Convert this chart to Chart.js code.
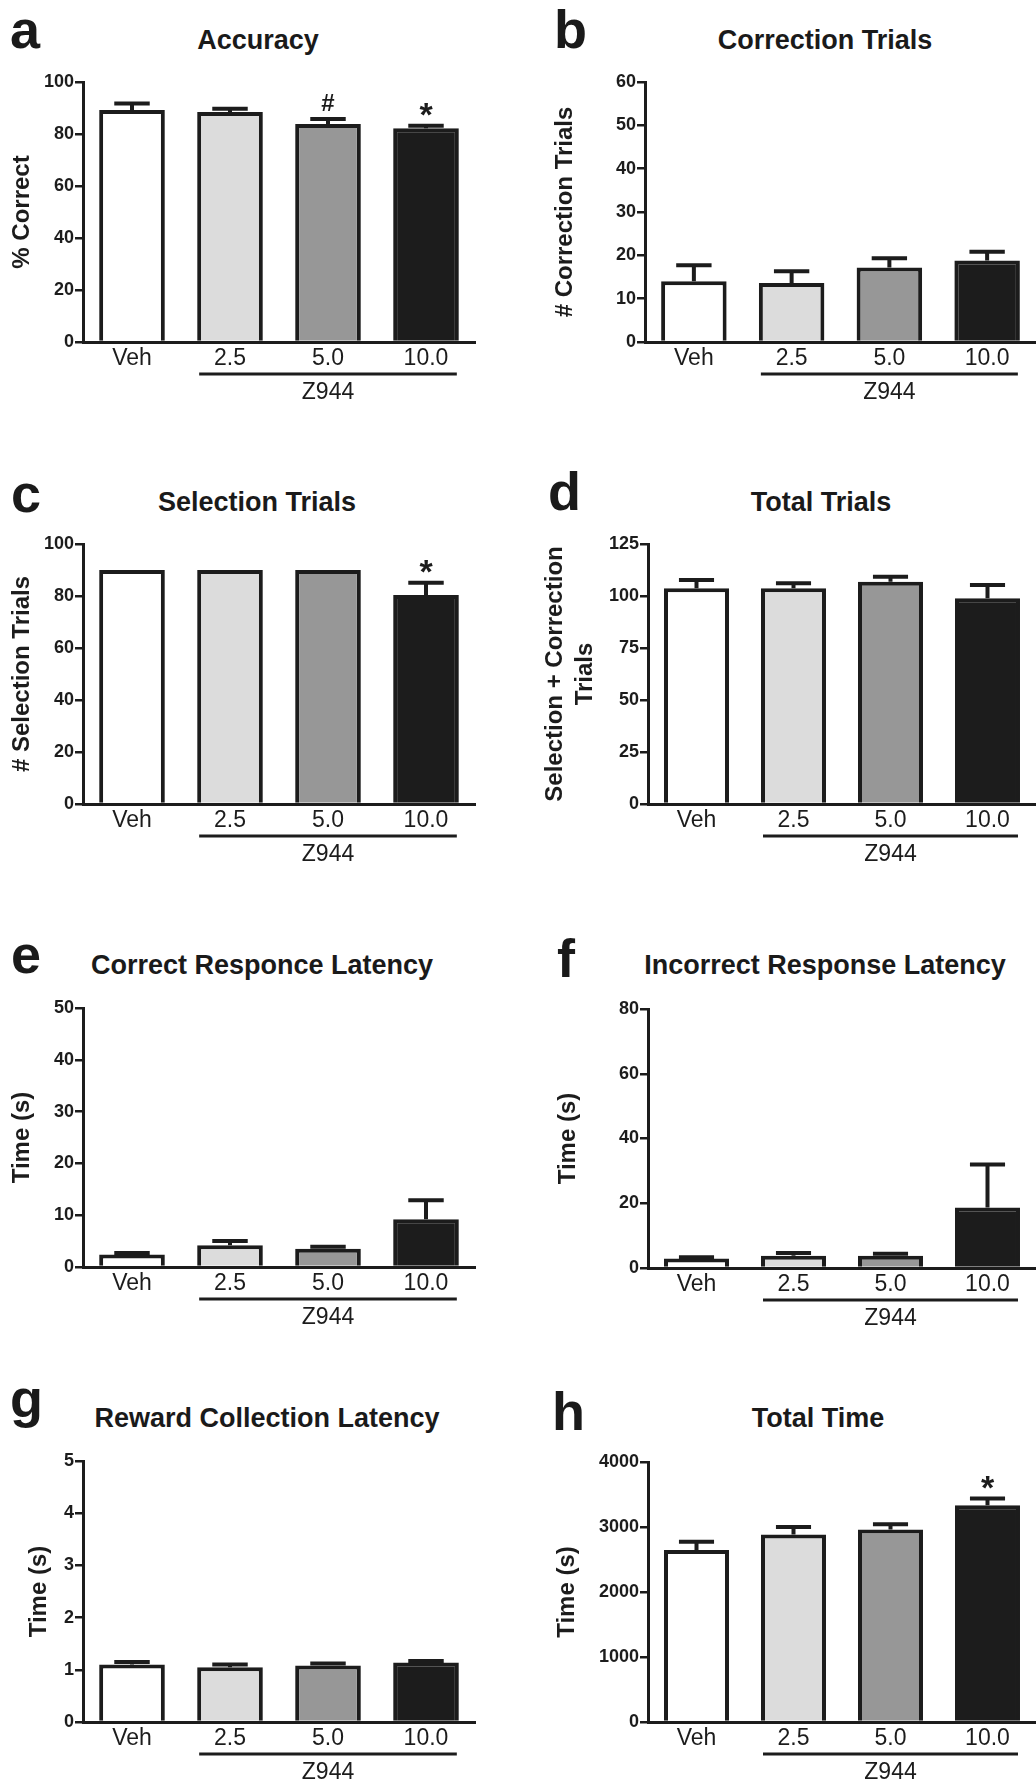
<!DOCTYPE html>
<html>
<head>
<meta charset="utf-8">
<script src="https://cdn.jsdelivr.net/npm/chart.js@4.4.1/dist/chart.umd.min.js"></script>
<style>
  html, body { margin: 0; padding: 0; background: #fff; overflow: hidden; }
  body { width: 1036px; height: 1784px; position: relative; font-family: "Liberation Sans", Arial, sans-serif; color: #1a1a1a; }
  canvas { position: absolute; }
  .letter { position: absolute; font-size: 54px; font-weight: bold; line-height: 1; }
  .title { position: absolute; font-size: 27px; font-weight: bold; line-height: 1; white-space: nowrap; transform: translateX(-50%); }
</style>
</head>
<body>
<script>
// groups and drug
var categories = ["Veh", "2.5", "5.0", "10.0"];
var drugLabel = "Z944";
var barColors = ["#ffffff", "#dcdcdc", "#979797", "#1c1c1c"];

// a - accuracy
var accuracyMean = [89.2, 88.5, 83.8, 82.2];
var accuracySem = [2.5, 1.2, 2.0, 1.0];
var accuracyMarks = ["", "", "#", "*"];
var accuracyTicks = [0, 20, 40, 60, 80, 100];

// b - correction trials
var correctionMean = [14.0, 13.6, 17.2, 18.8];
var correctionSem = [3.7, 2.7, 2.1, 2.0];
var correctionTicks = [0, 10, 20, 30, 40, 50, 60];

// c - selection trials
var selectionMean = [90, 90, 90, 80.4];
var selectionSem = [0, 0, 0, 4.7];
var selectionMarks = ["", "", "", "*"];
var selectionTicks = [0, 20, 40, 60, 80, 100];

// d - total trials
var totalTrialsMean = [103.7, 103.7, 106.9, 98.9];
var totalTrialsSem = [4.0, 2.4, 2.4, 6.4];
var totalTrialsTicks = [0, 25, 50, 75, 100, 125];

// e - correct response latency
var correctLatMean = [2.4, 4.2, 3.5, 9.2];
var correctLatSem = [0.3, 0.8, 0.4, 3.7];
var correctLatTicks = [0, 10, 20, 30, 40, 50];

// f - incorrect response latency
var incorrectLatMean = [2.9, 3.8, 3.8, 18.7];
var incorrectLatSem = [0.4, 0.8, 0.6, 13.3];
var incorrectLatTicks = [0, 20, 40, 60, 80];

// g - reward collection latency
var rewardLatMean = [1.10, 1.05, 1.08, 1.14];
var rewardLatSem = [0.05, 0.05, 0.04, 0.03];
var rewardLatTicks = [0, 1, 2, 3, 4, 5];

// h - total time
var totalTimeMean = [2645, 2885, 2962, 3335];
var totalTimeSem = [127, 115, 81, 102];
var totalTimeMarks = ["", "", "", "*"];
var totalTimeTicks = [0, 1000, 2000, 3000, 4000];

var noMarks = ["", "", "", ""];

// panel setup; box = [plotLeft, plotRight, plotTop, plotBottom] on the page
var panels = [
  {letter: "a", title: "Accuracy", yTitle: "% Correct", mean: accuracyMean, sem: accuracySem, marks: accuracyMarks, ticks: accuracyTicks,
   box: [83, 475, 82, 342], yTitleX: 22, letterX: 10, letterY: 48, titleX: 258, titleY: 50},
  {letter: "b", title: "Correction Trials", yTitle: "# Correction Trials", mean: correctionMean, sem: correctionSem, marks: noMarks, ticks: correctionTicks,
   box: [645, 1036, 82, 342], yTitleX: 565, letterX: 554, letterY: 48, titleX: 825, titleY: 50},
  {letter: "c", title: "Selection Trials", yTitle: "# Selection Trials", mean: selectionMean, sem: selectionSem, marks: selectionMarks, ticks: selectionTicks,
   box: [83, 475, 544, 804], yTitleX: 22, letterX: 11, letterY: 512, titleX: 257, titleY: 512},
  {letter: "d", title: "Total Trials", yTitle: ["Selection + Correction", "Trials"], mean: totalTrialsMean, sem: totalTrialsSem, marks: noMarks, ticks: totalTrialsTicks,
   box: [648, 1036, 544, 804], yTitleX: 555, letterX: 548, letterY: 510, titleX: 821, titleY: 512},
  {letter: "e", title: "Correct Responce Latency", yTitle: "Time (s)", mean: correctLatMean, sem: correctLatSem, marks: noMarks, ticks: correctLatTicks,
   box: [83, 475, 1008, 1267], yTitleX: 22, letterX: 11, letterY: 973, titleX: 262, titleY: 975},
  {letter: "f", title: "Incorrect Response Latency", yTitle: "Time (s)", mean: incorrectLatMean, sem: incorrectLatSem, marks: noMarks, ticks: incorrectLatTicks,
   box: [648, 1036, 1009, 1268], yTitleX: 568, letterX: 557, letterY: 977, titleX: 825, titleY: 975},
  {letter: "g", title: "Reward Collection Latency", yTitle: "Time (s)", mean: rewardLatMean, sem: rewardLatSem, marks: noMarks, ticks: rewardLatTicks,
   box: [83, 475, 1461, 1722], yTitleX: 39, letterX: 10, letterY: 1417, titleX: 267, titleY: 1428},
  {letter: "h", title: "Total Time", yTitle: "Time (s)", mean: totalTimeMean, sem: totalTimeSem, marks: totalTimeMarks, ticks: totalTimeTicks,
   box: [648, 1036, 1462, 1722], yTitleX: 567, letterX: 552, letterY: 1430, titleX: 818, titleY: 1428}
];

var ink = "#1c1c1c";
var fontFam = "'Liberation Sans', Arial, sans-serif";

function addText(cls, text, x, baseline, size) {
  var d = document.createElement("div");
  d.className = cls;
  d.textContent = text;
  d.style.left = x + "px";
  d.style.top = (baseline - 0.8465 * size) + "px";
  document.body.appendChild(d);
}

// error bars, significance marks and the drug bracket
var extrasPlugin = {
  id: "extras",
  afterDatasetsDraw: function (chart) {
    var ds = chart.data.datasets[0];
    var meta = chart.getDatasetMeta(0);
    var y = chart.scales.y;
    var ctx = chart.ctx;
    ctx.save();
    ctx.strokeStyle = ink;
    ctx.fillStyle = ink;
    ctx.lineWidth = 4;
    meta.data.forEach(function (bar, i) {
      var capY = y.getPixelForValue(ds.data[i] + ds.sem[i]);
      if (ds.sem[i] > 0) {
        var half = bar.width * 0.27;
        ctx.beginPath();
        ctx.moveTo(bar.x, bar.y);
        ctx.lineTo(bar.x, capY);
        ctx.moveTo(bar.x - half, capY);
        ctx.lineTo(bar.x + half, capY);
        ctx.stroke();
      }
      var m = ds.marks[i];
      if (m) {
        ctx.font = (m === "*" ? "bold 34px " : "bold 24px ") + fontFam;
        ctx.textAlign = "center";
        ctx.textBaseline = "alphabetic";
        var tm = ctx.measureText(m);
        var cy = capY - 16;
        ctx.fillText(m, bar.x, cy + (tm.actualBoundingBoxAscent - tm.actualBoundingBoxDescent) / 2);
      }
    });
    var b1 = meta.data[1], b3 = meta.data[3];
    var bottom = chart.chartArea.bottom;
    ctx.lineWidth = 3;
    ctx.beginPath();
    ctx.moveTo(b1.x - b1.width / 2 + 2, bottom + 32);
    ctx.lineTo(b3.x + b3.width / 2 - 2, bottom + 32);
    ctx.stroke();
    ctx.font = "23px " + fontFam;
    ctx.textAlign = "center";
    ctx.textBaseline = "middle";
    ctx.fillText(drugLabel, (b1.x + b3.x) / 2, bottom + 51);
    ctx.restore();
  }
};

panels.forEach(function (p) {
  var colLeft = p.box[0] > 518 ? 518 : 0;
  var padT = 20, xH = 64, canvasW = 518;
  var multi = Array.isArray(p.yTitle);
  var titleLH = multi ? 30 : 29;
  var padL = p.yTitleX - colLeft - titleLH / 2;
  var yW = p.box[0] - colLeft - padL;
  var padR = colLeft + canvasW - p.box[1];

  var canvas = document.createElement("canvas");
  canvas.width = canvasW;
  canvas.height = (p.box[3] - p.box[2]) + padT + xH;
  canvas.style.left = colLeft + "px";
  canvas.style.top = (p.box[2] - padT) + "px";
  document.body.appendChild(canvas);

  addText("letter", p.letter, p.letterX, p.letterY, 54);
  addText("title", p.title, p.titleX, p.titleY, 27);

  new Chart(canvas, {
    type: "bar",
    data: {
      labels: categories,
      datasets: [{
        data: p.mean,
        sem: p.sem,
        marks: p.marks,
        backgroundColor: barColors,
        borderColor: ink,
        borderWidth: 4,
        barPercentage: 0.67,
        categoryPercentage: 1
      }]
    },
    options: {
      responsive: false,
      animation: false,
      layout: {padding: {left: padL, right: padR, top: padT, bottom: 0}},
      plugins: {legend: {display: false}, tooltip: {enabled: false}},
      scales: {
        x: {
          grid: {display: false, drawTicks: false},
          border: {display: true, color: ink, width: 3},
          ticks: {color: ink, padding: 3, font: {family: fontFam, size: 23, lineHeight: 1.2}},
          afterFit: function (s) { s.height = xH; }
        },
        y: {
          min: p.ticks[0],
          max: p.ticks[p.ticks.length - 1],
          afterBuildTicks: function (s) { s.ticks = p.ticks.map(function (v) { return {value: v}; }); },
          grid: {display: true, drawOnChartArea: false, drawTicks: true, tickLength: 8, color: ink, lineWidth: 2.5},
          border: {display: true, color: ink, width: 3},
          ticks: {color: ink, padding: 1, font: {family: fontFam, size: 18, weight: "bold"},
                  callback: function (v) { return String(v); }},
          title: {display: true, text: p.yTitle, color: ink, padding: 0,
                  font: {family: fontFam, size: 24, weight: "bold", lineHeight: multi ? 1.25 : 1.2}},
          afterFit: function (s) { s.width = yW; }
        }
      }
    },
    plugins: [extrasPlugin]
  });
});
</script>
</body>
</html>
